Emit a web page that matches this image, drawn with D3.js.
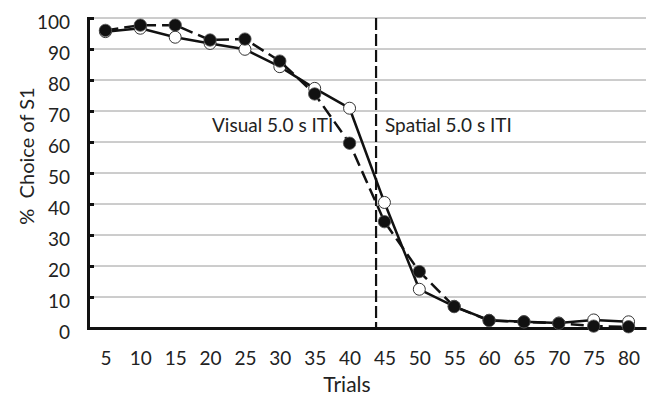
<!DOCTYPE html>
<html>
<head>
<meta charset="utf-8">
<script src="https://cdn.jsdelivr.net/npm/d3@7"></script>
<style>
  body { margin: 0; background: #fff; }
  text { font-family: Lato, "Open Sans", sans-serif; fill: #222; }
</style>
</head>
<body>
<div id="chart"></div>
<script>
const trials = [5, 10, 15, 20, 25, 30, 35, 40, 45, 50, 55, 60, 65, 70, 75, 80];
const openSeries = [95.6, 96.7, 93.8, 91.8, 89.9, 84.3, 77.3, 70.9, 40.5, 12.5, 7.0, 2.5, 2.0, 1.6, 2.6, 2.0];
const filledSeries = [96.0, 97.7, 97.7, 92.9, 93.2, 86.1, 75.5, 59.6, 34.3, 18.2, 6.9, 2.4, 2.0, 1.5, 0.6, 0.4];
const yTicks = [0, 10, 20, 30, 40, 50, 60, 70, 80, 90, 100];
const switchTrial = 43.8;
const phaseLabels = ["Visual 5.0 s ITI", "Spatial 5.0 s ITI"];

const width = 647, height = 395;
const margins = {top: 18, right: 1, bottom: 67, left: 88};
const fontSize = "19px";

const svg = d3.select("#chart")
  .append("svg")
  .attr("width", width)
  .attr("height", height);

const xScale = d3.scaleLinear()
  .domain([2.5, 82.5])
  .range([margins.left, width - margins.right]);

const yScale = d3.scaleLinear()
  .domain([0, 100])
  .range([height - margins.bottom, margins.top]);

// gridlines
svg.append("g")
  .selectAll("line")
  .data(yTicks.filter(d => d > 0))
  .join("line")
    .attr("x1", margins.left)
    .attr("x2", width - margins.right)
    .attr("y1", d => yScale(d))
    .attr("y2", d => yScale(d))
    .attr("stroke", "#9a9a9a")
    .attr("stroke-width", 1);

// y axis, ticks point inward
const yAxis = d3.axisRight(yScale)
  .tickValues(yTicks)
  .tickSize(6)
  .tickFormat("");

svg.append("g")
  .attr("transform", `translate(${margins.left},0)`)
  .call(yAxis)
  .call(g => g.select(".domain").attr("stroke", "#111").attr("stroke-width", 3))
  .call(g => g.selectAll(".tick line").attr("stroke", "#111").attr("stroke-width", 3));

svg.append("g")
  .selectAll("text")
  .data(yTicks)
  .join("text")
    .attr("x", 70)
    .attr("y", d => yScale(d) + 4)
    .attr("dy", "0.35em")
    .attr("text-anchor", "end")
    .style("font-size", fontSize)
    .text(d => d);

// x axis
const xAxis = d3.axisBottom(xScale)
  .tickValues(trials)
  .tickSize(0)
  .tickPadding(24)
  .tickSizeOuter(0);

svg.append("g")
  .attr("transform", `translate(0,${height - margins.bottom})`)
  .call(xAxis)
  .call(g => g.select(".domain").attr("stroke", "#111").attr("stroke-width", 3))
  .call(g => g.selectAll(".tick text")
    .style("font-family", "Lato, sans-serif")
    .style("font-size", fontSize)
    .attr("fill", "#222"));

svg.append("text")
  .attr("x", 347)
  .attr("y", 392)
  .attr("text-anchor", "middle")
  .style("font-size", "21px")
  .text("Trials");

svg.append("text")
  .attr("transform", "rotate(-90)")
  .attr("x", -156)
  .attr("y", 34)
  .attr("text-anchor", "middle")
  .style("font-size", "20px")
  .style("white-space", "pre")
  .text("%  Choice of S1");

// phase boundary
svg.append("line")
  .attr("x1", xScale(switchTrial))
  .attr("x2", xScale(switchTrial))
  .attr("y1", yScale(100))
  .attr("y2", yScale(0))
  .attr("stroke", "#111")
  .attr("stroke-width", 2.2)
  .attr("stroke-dasharray", "12,4");

svg.append("text")
  .attr("x", 212)
  .attr("y", 132)
  .style("font-size", fontSize)
  .text(phaseLabels[0]);

svg.append("text")
  .attr("x", 385)
  .attr("y", 132)
  .style("font-size", fontSize)
  .text(phaseLabels[1]);

const line = d3.line()
  .x((d, i) => xScale(trials[i]))
  .y(d => yScale(d));

// open series (solid line)
svg.append("path")
  .attr("d", line(openSeries))
  .attr("fill", "none")
  .attr("stroke", "#111")
  .attr("stroke-width", 2.5);

svg.append("g")
  .selectAll("circle")
  .data(openSeries)
  .join("circle")
    .attr("cx", (d, i) => xScale(trials[i]))
    .attr("cy", d => yScale(d))
    .attr("r", 6)
    .attr("fill", "#fff")
    .attr("stroke", "#333")
    .attr("stroke-width", 1);

// filled series (dashed line)
svg.append("path")
  .attr("d", line(filledSeries))
  .attr("fill", "none")
  .attr("stroke", "#111")
  .attr("stroke-width", 2.5)
  .attr("stroke-dasharray", "13,6");

svg.append("g")
  .selectAll("circle")
  .data(filledSeries)
  .join("circle")
    .attr("cx", (d, i) => xScale(trials[i]))
    .attr("cy", d => yScale(d))
    .attr("r", 6.2)
    .attr("fill", "#111")
    .attr("stroke", "#555")
    .attr("stroke-width", 0.8);
</script>
</body>
</html>
